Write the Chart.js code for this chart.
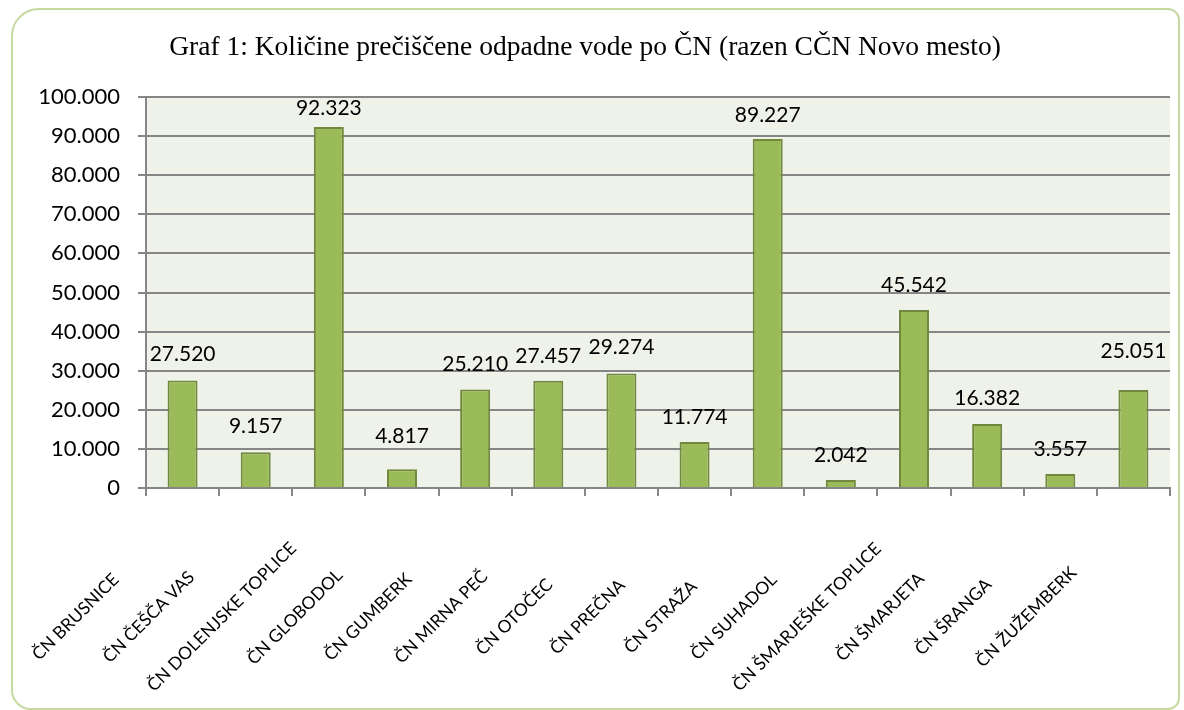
<!DOCTYPE html>
<html>
<head>
<meta charset="utf-8">
<script src="https://cdn.jsdelivr.net/npm/chart.js@4.4.0/dist/chart.umd.min.js"></script>
<style>
    body { margin: 0; background: #fff; }
    #wrap { position: relative; width: 1184px; height: 710px; }
    #frame {
        position: absolute; left: 11px; top: 8px; width: 1169px; height: 702px;
        border: 2px solid #c6d9a1; border-radius: 28px 12px 12px 20px; box-sizing: border-box;
    }
    #chart { position: absolute; left: 0; top: 0; }
</style>
</head>
<body>
<div id="wrap">
    <div id="frame"></div>
    <canvas id="chart" width="1184" height="710"></canvas>
</div>
<script>
const titleText = 'Graf 1: Količine prečiščene odpadne vode po ČN (razen CČN Novo mesto)';

const plants = [
    'ČN BRUSNICE', 'ČN ČEŠČA VAS', 'ČN DOLENJSKE TOPLICE', 'ČN GLOBODOL', 'ČN GUMBERK',
    'ČN MIRNA PEČ', 'ČN OTOČEC', 'ČN PREČNA', 'ČN STRAŽA', 'ČN SUHADOL',
    'ČN ŠMARJEŠKE TOPLICE', 'ČN ŠMARJETA', 'ČN ŠRANGA', 'ČN ŽUŽEMBERK'
];

const waterVolume = [27520, 9157, 92323, 4817, 25210, 27457, 29274, 11774, 89227, 2042, 45542, 16382, 3557, 25051];

const yTicks = [0, 10000, 20000, 30000, 40000, 50000, 60000, 70000, 80000, 90000, 100000];

// how far above the bar top each value label sits (some were moved by hand in the original)
const labelLift = [26, 26, 19, 33, 25, 24, 26, 25, 24, 25, 25, 26, 25, 39];

const fmt = v => String(v).replace(/\B(?=(\d{3})+(?!\d))/g, '.');

const gridColor = '#868686';

const plotBackground = {
    id: 'plotBackground',
    beforeDraw(chart) {
        const { ctx, chartArea: a } = chart;
        ctx.save();
        ctx.fillStyle = '#eff2e8';
        ctx.fillRect(a.left, a.top, a.right - a.left, a.bottom - a.top);
        ctx.restore();
    }
};

const valueLabels = {
    id: 'valueLabels',
    afterDatasetsDraw(chart) {
        const ctx = chart.ctx;
        const meta = chart.getDatasetMeta(0);
        ctx.save();
        ctx.font = '21px Lato';
        ctx.fillStyle = '#000';
        ctx.textAlign = 'center';
        ctx.textBaseline = 'middle';
        meta.data.forEach((bar, i) => {
            ctx.fillText(fmt(waterVolume[i]), bar.x, bar.y - labelLift[i]);
        });
        ctx.restore();
    }
};

// category labels: rotated 45deg, centred below and left of each category like the original
const categoryLabels = {
    id: 'categoryLabels',
    afterDraw(chart) {
        const ctx = chart.ctx;
        const xs = chart.scales.x;
        ctx.save();
        ctx.font = '17.5px Lato';
        ctx.fillStyle = '#000';
        ctx.textAlign = 'center';
        ctx.textBaseline = 'middle';
        plants.forEach((name, i) => {
            const x = xs.getPixelForValue(i);
            ctx.save();
            ctx.translate(x - 107, 617);
            ctx.rotate(-Math.PI / 4);
            ctx.fillText(name, 0, 0);
            ctx.restore();
        });
        ctx.restore();
    }
};

new Chart(document.getElementById('chart'), {
    type: 'bar',
    data: {
        labels: plants,
        datasets: [{
            data: waterVolume,
            backgroundColor: '#9bbb59',
            borderColor: '#71893f',
            borderWidth: 2,
            barPercentage: 0.41,
            categoryPercentage: 1
        }]
    },
    options: {
        responsive: false,
        animation: false,
        layout: { padding: { left: 0, right: 14, top: 0, bottom: 0 } },
        plugins: {
            legend: { display: false },
            tooltip: { enabled: false },
            title: {
                display: true,
                text: titleText,
                color: '#000',
                font: { family: 'Liberation Serif', size: 27.5, weight: 'normal', lineHeight: 1.2 },
                padding: { top: 31, bottom: 33 }
            }
        },
        scales: {
            x: {
                grid: {
                    offset: true, drawOnChartArea: false, drawTicks: true,
                    tickLength: 8, color: gridColor, lineWidth: 2
                },
                border: { display: true, color: gridColor, width: 2 },
                ticks: { display: false },
                afterFit(scale) { scale.height = 222; }
            },
            y: {
                min: 0,
                max: 100000,
                afterBuildTicks(scale) { scale.ticks = yTicks.map(v => ({ value: v })); },
                ticks: {
                    color: '#000',
                    font: { family: 'Lato', size: 22 },
                    padding: 18,
                    callback: v => fmt(v)
                },
                grid: { color: gridColor, lineWidth: 2, tickLength: 8 },
                border: { display: true, color: gridColor, width: 2 },
                afterFit(scale) { scale.width = 146; }
            }
        }
    },
    plugins: [plotBackground, valueLabels, categoryLabels]
});
</script>
</body>
</html>
